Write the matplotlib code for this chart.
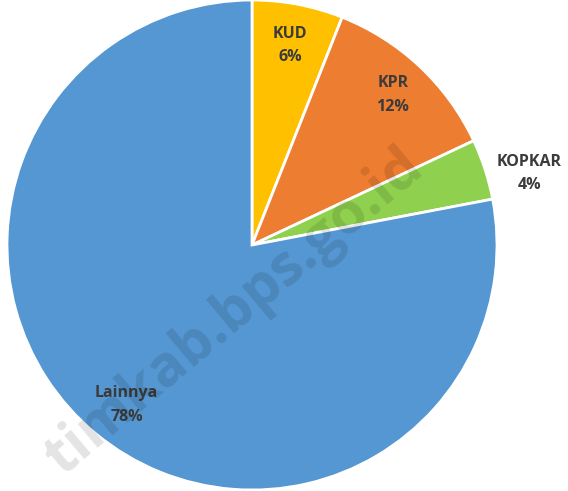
import matplotlib.pyplot as plt
import numpy as np

# Share of cooperatives by type (percent)
categories = ["KUD", "KPR", "KOPKAR", "Lainnya"]
values = [6, 12, 4, 78]
colors = ["#FFC000", "#ED7D31", "#8FD14F", "#5597D2"]

plt.rcParams["font.family"] = ["Open Sans", "DejaVu Sans"]

fig = plt.figure(figsize=(5.68, 4.91), dpi=100)
ax = fig.add_axes([7 / 568, 1 / 491, 490 / 568, 490 / 491])

wedges, _ = ax.pie(values, colors=colors, startangle=90, counterclock=False,
                   radius=1.0,
                   wedgeprops=dict(edgecolor="white", linewidth=2))
ax.set_xlim(-1, 1)
ax.set_ylim(-1, 1)
ax.set_aspect("equal")
ax.axis("off")

# label placement: distance from centre and small angle tweak per slice
label_dist = [0.83, 0.84, 1.17, 0.83]
angle_shift = [0, 0, -3.5, 1.5]

for w, name, v, d, s in zip(wedges, categories, values, label_dist, angle_shift):
    mid = np.deg2rad((w.theta1 + w.theta2) / 2 + s)
    x, y = d * np.cos(mid), d * np.sin(mid)
    ax.text(x, y, f"{name}\n{v}%", ha="center", va="center",
            fontsize=11.5, fontweight="bold", color="#3b3b3b",
            linespacing=1.6)

# faint watermark from the source document
fig.text(235 / 568, 1 - 312 / 491, "timkab.bps.go.id", rotation=40,
         fontsize=41, fontweight="bold", color="black", alpha=0.11,
         ha="center", va="center")

fig.savefig("out.png", dpi=100)
